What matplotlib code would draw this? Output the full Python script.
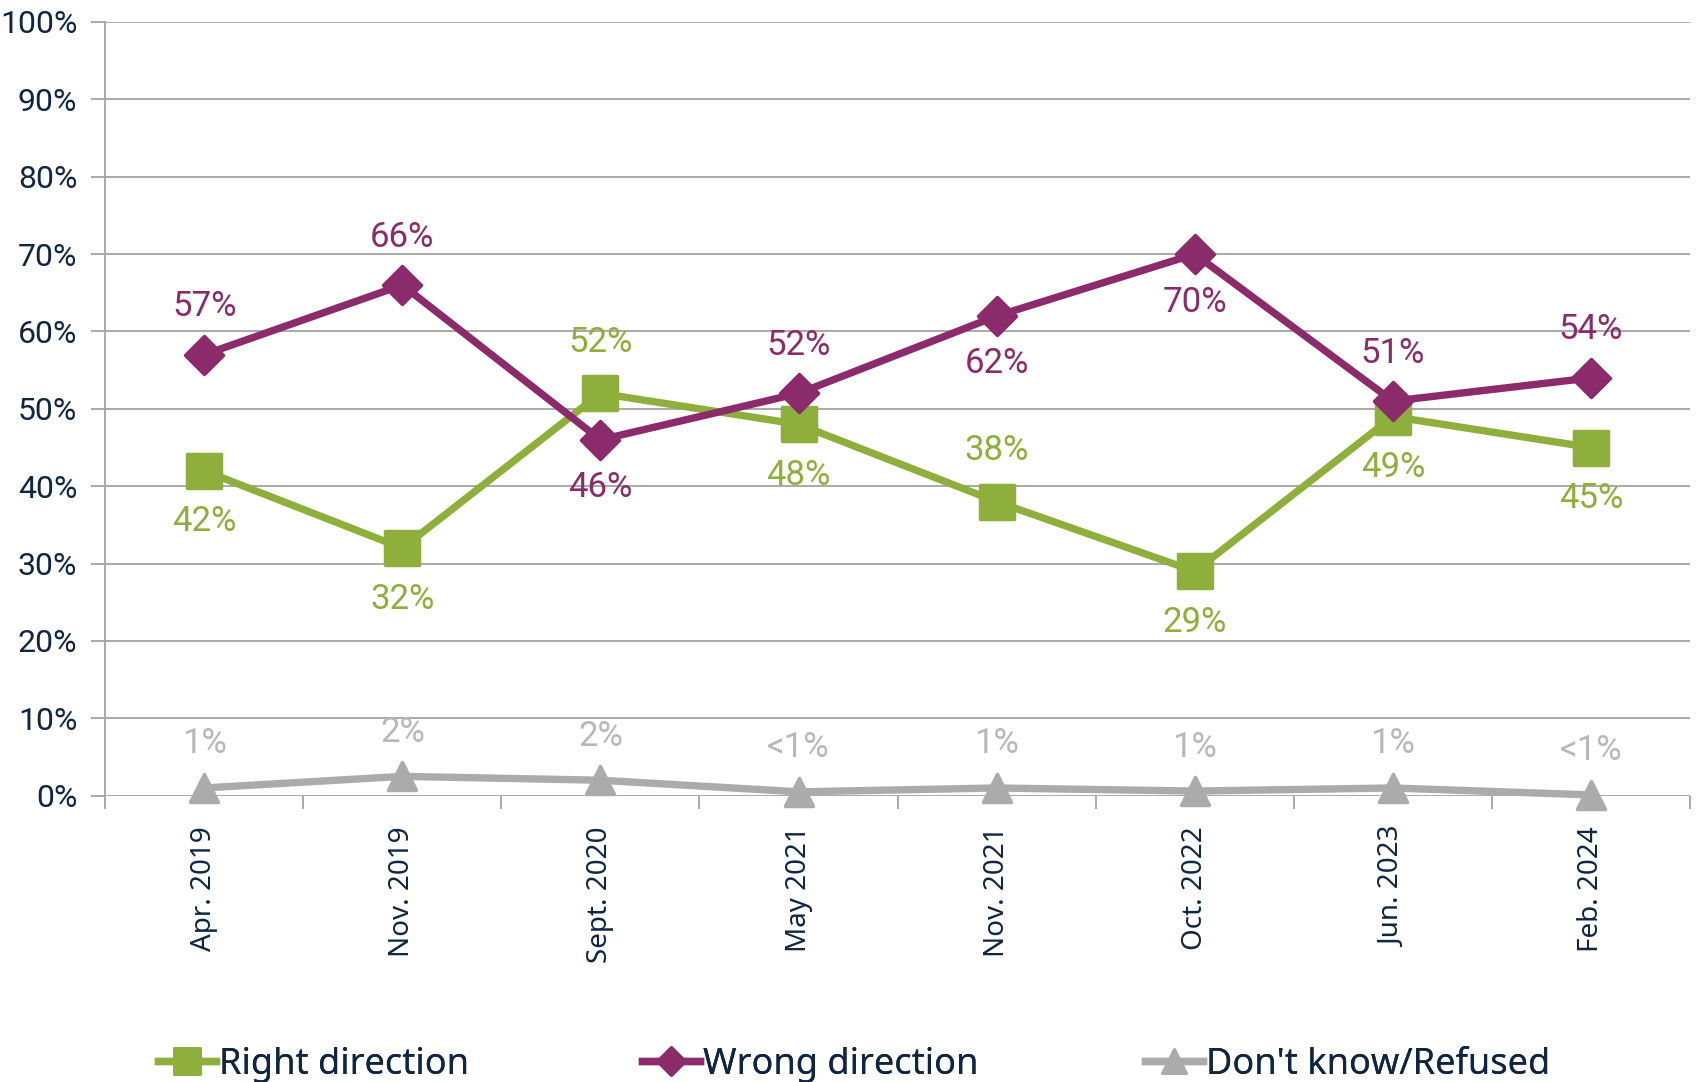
import matplotlib
matplotlib.use("Agg")
import matplotlib.pyplot as plt
from matplotlib.lines import Line2D
from matplotlib.markers import MarkerStyle
from matplotlib.ticker import FixedLocator

# survey waves
waves = ["Apr. 2019", "Nov. 2019", "Sept. 2020", "May 2021",
         "Nov. 2021", "Oct. 2022", "Jun. 2023", "Feb. 2024"]

right_dir = [42, 32, 52, 48, 38, 29, 49, 45]
wrong_dir = [57, 66, 46, 52, 62, 70, 51, 54]
dont_know = [1, 2.5, 2, 0.5, 1, 0.6, 1, 0.1]
dont_know_labels = ["1%", "2%", "2%", "<1%", "1%", "1%", "1%", "<1%"]

# which side the label sits on: +1 above, -1 below
right_side = [-1, -1, 1, -1, 1, -1, -1, -1]
wrong_side = [1, 1, -1, 1, -1, -1, 1, 1]

GREEN = "#8FAF3C"
PURPLE = "#8C2B6B"
GRAY = "#ABABAB"
GRAY_TXT = "#B8B8B8"
NAVY = "#0F2541"
GRID = "#A3A3A3"

NARROW = ["Roboto", "DejaVu Sans"]
plt.rcParams["font.family"] = ["Noto Sans", "DejaVu Sans"]

fig = plt.figure(figsize=(16.96, 10.82), dpi=100)
ax = fig.add_axes([0.062, 0.2646, 0.9345, 0.7151])

x = list(range(len(waves)))
LW = 5.3

def mk(m):
    return MarkerStyle(m, joinstyle="round")

ax.plot(x, right_dir, color=GREEN, lw=LW, marker=mk("s"), ms=25, mew=2.5,
        mfc=GREEN, mec=GREEN, zorder=3, solid_joinstyle="round", clip_on=False)
ax.plot(x, wrong_dir, color=PURPLE, lw=LW, marker=mk("D"), ms=19, mew=2.5,
        mfc=PURPLE, mec=PURPLE, zorder=4, solid_joinstyle="round", clip_on=False)
ax.plot(x, dont_know, color=GRAY, lw=LW, marker=mk("^"), ms=20, mew=2.5,
        mfc=GRAY, mec=GRAY, zorder=3, solid_joinstyle="round", clip_on=False)

for i in x:
    ax.annotate(f"{right_dir[i]}%", (i, right_dir[i]),
                xytext=(0, 51 * right_side[i]), textcoords="offset pixels",
                ha="center", va="center", fontsize=25, color=GREEN, family=NARROW)
    ax.annotate(f"{wrong_dir[i]}%", (i, wrong_dir[i]),
                xytext=(0, 48 * wrong_side[i]), textcoords="offset pixels",
                ha="center", va="center", fontsize=25, color=PURPLE, family=NARROW)
    ax.annotate(dont_know_labels[i], (i, dont_know[i]),
                xytext=(0, 44), textcoords="offset pixels",
                ha="center", va="center", fontsize=25, color=GRAY_TXT, family=NARROW)

ax.set_xlim(-0.5, len(waves) - 0.5)
ax.set_ylim(0, 100)
ax.set_yticks(range(0, 101, 10))
ax.set_yticklabels([f"{v}%" for v in range(0, 101, 10)], fontsize=23,
                   color=NAVY, family=NARROW)
ax.yaxis.grid(True, color=GRID, lw=1.3)
ax.set_axisbelow(True)

ax.set_xticks(x)
ax.set_xticklabels(waves, rotation=90, fontsize=20, color=NAVY)
ax.tick_params(axis="x", length=0, pad=22)
ax.xaxis.set_minor_locator(FixedLocator([i - 0.5 for i in range(len(waves) + 1)]))
ax.tick_params(axis="x", which="minor", length=9, width=1.3, color=GRID)
ax.tick_params(axis="y", length=10, width=1.3, color=GRID, pad=10)

for s in ["top", "right", "bottom"]:
    ax.spines[s].set_visible(False)
ax.spines["left"].set_color(GRID)
ax.spines["left"].set_linewidth(1.3)

# legend: one entry per block, placed like the original
handles = [
    Line2D([], [], color=GREEN, lw=LW, marker=mk("s"), ms=19, mew=2, label="Right direction"),
    Line2D([], [], color=PURPLE, lw=LW, marker=mk("D"), ms=14, mew=2, label="Wrong direction"),
    Line2D([], [], color=GRAY, lw=LW, marker=mk("^"), ms=17, mew=2, label="Don't know/Refused"),
]
leg_x = [158, 642, 1145]
for h, lx in zip(handles, leg_x):
    leg = fig.legend(handles=[h], loc="center left",
                     bbox_to_anchor=(lx / 1696, 1 - 1065 / 1082),
                     frameon=False, fontsize=26, handlelength=1.6,
                     handletextpad=0.1, borderpad=0, borderaxespad=0)
    for t in leg.get_texts():
        t.set_color(NAVY)
    fig.add_artist(leg)

fig.savefig("out.png", dpi=100)
